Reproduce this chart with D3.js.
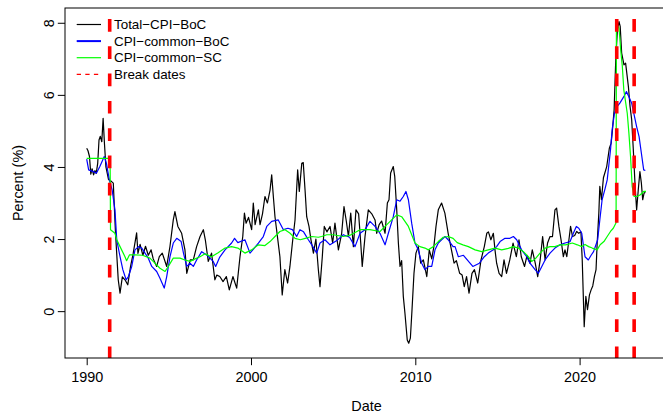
<!DOCTYPE html>
<html>
<head>
<meta charset="utf-8">
<script src="https://cdn.jsdelivr.net/npm/d3@7"></script>
<style>
    body { margin: 0; background: #fff; }
    svg text { font-family: "Liberation Sans", Arial, Helvetica, sans-serif; fill: #000; }
</style>
</head>
<body>
<div id="chart"></div>
<script>
// Series as [decimal year, percent]
const totalCpiBoc = [
    [1990.00, 4.52], [1990.08, 4.45], [1990.17, 4.29], [1990.25, 3.80], [1990.33, 3.95], [1990.42, 3.78],
    [1990.50, 3.90], [1990.58, 3.82], [1990.67, 4.10], [1990.75, 4.75], [1990.83, 4.85], [1990.92, 4.70],
    [1991.00, 5.35], [1991.08, 4.66], [1991.17, 4.00], [1991.33, 3.65], [1991.50, 3.60], [1991.62, 3.55],
    [1991.75, 2.20], [1991.92, 0.87], [1992.03, 0.50], [1992.17, 0.95], [1992.33, 0.87], [1992.50, 0.73],
    [1992.67, 1.24], [1992.83, 1.60], [1993.04, 2.17], [1993.12, 1.60], [1993.25, 1.85], [1993.42, 1.55],
    [1993.58, 1.80], [1993.75, 1.55], [1993.92, 1.70], [1994.05, 1.45], [1994.26, 1.24], [1994.42, 1.51],
    [1994.60, 1.61], [1994.87, 1.24], [1995.07, 1.80], [1995.27, 2.53], [1995.37, 2.76], [1995.55, 2.35],
    [1995.78, 2.16], [1995.98, 1.70], [1996.09, 1.05], [1996.30, 1.42], [1996.49, 1.42], [1996.69, 1.79],
    [1996.90, 2.07], [1997.10, 2.26], [1997.22, 1.98], [1997.40, 1.38], [1997.60, 1.61], [1997.80, 0.87],
    [1997.92, 1.00], [1998.10, 0.96], [1998.30, 0.82], [1998.50, 0.96], [1998.68, 0.59], [1998.90, 0.96],
    [1999.13, 0.64], [1999.33, 1.51], [1999.50, 2.07], [1999.60, 2.72], [1999.70, 2.44], [1999.85, 2.60],
    [2000.04, 2.26], [2000.14, 3.00], [2000.25, 2.40], [2000.45, 2.81], [2000.55, 2.40], [2000.70, 2.70],
    [2000.85, 3.18], [2001.00, 3.00], [2001.16, 3.36], [2001.26, 3.78], [2001.36, 3.18], [2001.46, 2.62],
    [2001.76, 1.51], [2001.90, 0.45], [2002.06, 1.15], [2002.23, 0.78], [2002.37, 1.24], [2002.52, 1.89],
    [2002.68, 2.53], [2002.84, 3.92], [2002.94, 3.32], [2003.09, 4.10], [2003.18, 4.12], [2003.29, 3.36],
    [2003.39, 2.62], [2003.53, 2.35], [2003.65, 1.98], [2003.80, 1.61], [2003.95, 2.00], [2004.10, 1.15],
    [2004.20, 0.68], [2004.34, 1.51], [2004.46, 2.35], [2004.62, 2.20], [2004.81, 2.35], [2004.97, 1.89],
    [2005.11, 2.44], [2005.32, 1.70], [2005.52, 2.16], [2005.66, 2.90], [2005.80, 2.50], [2005.93, 2.07],
    [2006.07, 2.72], [2006.23, 1.79], [2006.39, 2.81], [2006.55, 2.70], [2006.68, 1.89], [2006.77, 1.24],
    [2006.94, 2.07], [2007.14, 2.81], [2007.35, 2.70], [2007.55, 2.53], [2007.65, 2.16], [2007.80, 2.40],
    [2007.95, 2.50], [2008.16, 2.16], [2008.30, 3.00], [2008.40, 3.09], [2008.50, 3.83], [2008.66, 4.01],
    [2008.75, 3.73], [2008.87, 2.81], [2008.97, 1.89], [2009.07, 1.24], [2009.17, 1.40], [2009.27, 0.41],
    [2009.37, -0.06], [2009.51, -0.80], [2009.60, -0.89], [2009.70, -0.75], [2009.80, 0.04], [2009.92, 1.05],
    [2010.04, 1.61], [2010.18, 1.79], [2010.33, 1.33], [2010.49, 1.42], [2010.70, 0.96], [2010.85, 1.70],
    [2011.00, 1.45], [2011.13, 1.79], [2011.26, 2.35], [2011.40, 2.81], [2011.60, 3.00], [2011.80, 2.72],
    [2012.00, 2.16], [2012.20, 1.70], [2012.36, 1.33], [2012.50, 1.40], [2012.70, 1.05], [2012.85, 1.00],
    [2012.98, 0.68], [2013.12, 0.96], [2013.27, 0.50], [2013.45, 1.05], [2013.60, 1.15], [2013.80, 0.78],
    [2014.00, 1.42], [2014.20, 1.79], [2014.35, 2.16], [2014.45, 2.20], [2014.60, 1.98], [2014.75, 2.16],
    [2014.85, 1.70], [2014.95, 1.33], [2015.10, 1.05], [2015.26, 0.96], [2015.40, 1.42], [2015.55, 1.05],
    [2015.75, 1.42], [2015.95, 1.89], [2016.15, 1.51], [2016.31, 1.98], [2016.45, 1.51], [2016.65, 1.24],
    [2016.80, 1.55], [2016.98, 1.33], [2017.12, 1.70], [2017.30, 1.33], [2017.45, 0.96], [2017.60, 1.42],
    [2017.75, 2.07], [2017.90, 1.42], [2018.05, 1.89], [2018.20, 2.07], [2018.35, 2.07], [2018.50, 2.81],
    [2018.60, 2.86], [2018.74, 2.35], [2018.87, 1.98], [2019.01, 1.51], [2019.11, 1.70], [2019.22, 1.51],
    [2019.35, 1.98], [2019.45, 2.35], [2019.57, 2.07], [2019.70, 2.10], [2019.82, 2.21], [2019.95, 2.16],
    [2020.08, 2.20], [2020.16, 1.42], [2020.28, -0.43], [2020.38, 0.41], [2020.48, 0.04], [2020.60, 0.45],
    [2020.70, 0.59], [2020.80, 0.70], [2020.90, 0.96], [2021.00, 1.15], [2021.07, 1.89], [2021.17, 2.72],
    [2021.23, 3.46], [2021.33, 3.09], [2021.45, 3.70], [2021.65, 4.01], [2021.81, 4.52], [2021.92, 4.66],
    [2022.00, 5.03], [2022.10, 5.58], [2022.20, 6.97], [2022.30, 7.80], [2022.40, 8.03], [2022.47, 7.90],
    [2022.56, 7.16], [2022.70, 6.83], [2022.80, 6.88], [2022.97, 6.23], [2023.07, 5.68], [2023.17, 5.31],
    [2023.27, 4.47], [2023.37, 3.55], [2023.47, 2.81], [2023.57, 3.36], [2023.67, 3.87], [2023.76, 3.55],
    [2023.84, 3.09], [2023.92, 3.27], [2024.00, 3.30]
];

const cpiCommonBoc = [
    [1990.00, 4.22], [1990.12, 3.92], [1990.40, 3.87], [1990.60, 3.83], [1990.80, 4.01], [1991.07, 4.29],
    [1991.20, 4.10], [1991.38, 3.64], [1991.55, 3.36], [1991.72, 2.81], [1991.83, 1.98], [1992.03, 1.51],
    [1992.20, 1.15], [1992.40, 0.87], [1992.54, 0.96], [1992.74, 1.24], [1992.94, 1.70], [1993.15, 1.79],
    [1993.35, 1.75], [1993.55, 1.61], [1993.75, 1.47], [1993.96, 1.24], [1994.26, 1.10], [1994.46, 0.91],
    [1994.72, 0.64], [1994.87, 0.96], [1995.07, 1.51], [1995.27, 1.89], [1995.48, 2.02], [1995.75, 1.93],
    [1995.89, 1.61], [1996.09, 1.24], [1996.29, 1.33], [1996.49, 1.24], [1996.69, 1.42], [1997.00, 1.65],
    [1997.30, 1.56], [1997.70, 1.38], [1997.85, 1.24], [1998.10, 1.50], [1998.42, 1.70], [1998.82, 1.89],
    [1999.00, 2.02], [1999.20, 1.90], [1999.63, 1.98], [1999.94, 1.61], [2000.20, 1.75], [2000.45, 1.89],
    [2000.75, 2.07], [2000.96, 2.35], [2001.26, 2.49], [2001.66, 2.53], [2001.97, 2.26], [2002.25, 2.30],
    [2002.52, 2.26], [2002.78, 2.07], [2002.98, 2.26], [2003.20, 2.20], [2003.49, 1.98], [2003.70, 1.84],
    [2004.00, 1.61], [2004.20, 1.89], [2004.50, 1.98], [2004.81, 1.84], [2005.20, 1.95], [2005.62, 2.12],
    [2006.00, 2.05], [2006.33, 1.79], [2006.64, 2.16], [2006.94, 2.26], [2007.24, 2.49], [2007.55, 2.35],
    [2007.85, 2.16], [2008.16, 1.84], [2008.36, 2.16], [2008.66, 2.62], [2008.87, 3.09], [2009.07, 3.05],
    [2009.27, 3.18], [2009.43, 3.32], [2009.58, 3.09], [2009.78, 2.44], [2009.98, 1.89], [2010.18, 1.70],
    [2010.39, 1.33], [2010.59, 1.15], [2010.79, 1.24], [2011.00, 1.24], [2011.20, 1.70], [2011.40, 1.89],
    [2011.60, 1.98], [2011.81, 2.07], [2012.00, 1.98], [2012.30, 1.79], [2012.42, 1.79], [2012.62, 1.51],
    [2012.93, 1.55], [2013.33, 1.33], [2013.50, 1.24], [2013.90, 1.33], [2014.20, 1.51], [2014.44, 1.61],
    [2014.75, 1.70], [2014.95, 1.79], [2015.16, 1.93], [2015.46, 2.02], [2015.76, 2.02], [2015.97, 2.07],
    [2016.17, 1.98], [2016.47, 1.70], [2016.78, 1.51], [2016.98, 1.33], [2017.29, 1.15], [2017.49, 1.05],
    [2017.70, 1.24], [2017.90, 1.42], [2018.20, 1.61], [2018.50, 1.75], [2018.81, 1.84], [2019.11, 1.89],
    [2019.42, 1.93], [2019.62, 2.16], [2019.80, 2.35], [2019.95, 2.30], [2020.13, 2.16], [2020.33, 1.51],
    [2020.53, 1.42], [2020.70, 1.55], [2020.85, 1.65], [2021.10, 1.98], [2021.23, 2.53], [2021.37, 3.09],
    [2021.55, 3.40], [2021.68, 3.64], [2021.88, 4.47], [2021.98, 5.03], [2022.12, 5.49], [2022.29, 5.68],
    [2022.45, 5.77], [2022.69, 5.95], [2022.85, 6.09], [2023.00, 5.95], [2023.17, 5.77], [2023.30, 5.49],
    [2023.47, 5.12], [2023.62, 4.84], [2023.76, 4.38], [2023.90, 3.92], [2024.00, 3.90]
];

const cpiCommonSc = [
    [1990.00, 4.24], [1991.40, 4.24], [1991.43, 3.92], [1991.45, 2.26], [1991.72, 2.16], [1991.83, 1.98],
    [1992.03, 1.79], [1992.33, 1.51], [1992.43, 1.40], [1992.60, 1.56], [1992.94, 1.56], [1993.40, 1.55],
    [1993.85, 1.47], [1994.15, 1.33], [1994.46, 1.19], [1994.77, 1.10], [1994.97, 1.24], [1995.27, 1.47],
    [1995.68, 1.47], [1995.98, 1.42], [1996.29, 1.38], [1996.60, 1.45], [1996.90, 1.51], [1997.20, 1.59],
    [1997.60, 1.51], [1998.00, 1.62], [1998.42, 1.75], [1998.82, 1.79], [1999.20, 1.75], [1999.63, 1.61],
    [2000.04, 1.70], [2000.45, 1.84], [2000.85, 1.82], [2001.16, 1.93], [2001.46, 2.07], [2001.76, 2.21],
    [2002.07, 2.26], [2002.38, 2.16], [2002.68, 2.02], [2003.00, 1.98], [2003.30, 2.02], [2003.70, 2.07],
    [2004.10, 2.05], [2004.30, 2.07], [2004.61, 2.12], [2005.00, 2.12], [2005.62, 2.07], [2006.00, 2.10],
    [2006.64, 2.26], [2007.24, 2.26], [2007.85, 2.21], [2008.16, 2.35], [2008.56, 2.53], [2008.87, 2.67],
    [2009.17, 2.62], [2009.37, 2.49], [2009.58, 2.35], [2009.78, 2.12], [2009.98, 1.89], [2010.28, 1.79],
    [2010.59, 1.75], [2010.79, 1.70], [2011.10, 1.79], [2011.40, 1.93], [2011.70, 2.05], [2012.00, 2.07],
    [2012.30, 2.02], [2012.55, 1.90], [2012.90, 1.84], [2013.23, 1.79], [2013.64, 1.70], [2014.04, 1.65],
    [2014.44, 1.70], [2014.85, 1.75], [2015.26, 1.70], [2015.66, 1.74], [2015.97, 1.79], [2016.27, 1.75],
    [2016.58, 1.65], [2016.88, 1.51], [2017.08, 1.38], [2017.30, 1.45], [2017.59, 1.61], [2017.90, 1.75],
    [2018.20, 1.79], [2018.50, 1.79], [2018.81, 1.84], [2019.15, 1.84], [2019.56, 1.89], [2019.86, 1.84],
    [2020.13, 1.79], [2020.33, 1.85], [2020.55, 1.79], [2020.77, 1.75], [2021.07, 1.70], [2021.25, 1.84],
    [2021.48, 1.93], [2021.68, 2.07], [2021.88, 2.21], [2022.05, 2.30], [2022.22, 2.45], [2022.24, 7.90],
    [2022.28, 7.94], [2022.40, 7.85], [2022.50, 7.25], [2022.60, 6.79], [2022.69, 6.14], [2022.90, 5.49],
    [2023.00, 4.94], [2023.10, 4.29], [2023.20, 3.46], [2023.32, 3.18], [2023.50, 3.18], [2023.70, 3.23],
    [2023.90, 3.32], [2024.04, 3.32]
];

const breakDates = [1991.40, 2022.26, 2023.32];
const xTicks = [1990, 2000, 2010, 2020];
const yTicks = [0, 2, 4, 6, 8];
const seriesNames = ["Total\u2212CPI\u2212BoC", "CPI\u2212common\u2212BoC", "CPI\u2212common\u2212SC", "Break dates"];
const seriesColors = ["#000000", "#0000ff", "#00ff00", "#ff0000"];

function drawChart() {
    const margin = { top: 8, right: -5, bottom: 56, left: 65 };
    const fullWidth = 663, fullHeight = 414;
    const width = fullWidth - margin.left - margin.right;
    const height = fullHeight - margin.top - margin.bottom;

    const svg = d3.select("#chart")
        .append("svg")
        .attr("width", fullWidth)
        .attr("height", fullHeight)
        .style("display", "block");

    const g = svg.append("g")
        .attr("transform", `translate(${margin.left},${margin.top})`);

    // R style 4% padding around the data range
    const x = d3.scaleLinear().domain([1988.68, 2025.38]).range([0, width]);
    const y = d3.scaleLinear().domain([-1.30, 8.41]).range([height, 0]);

    // X axis
    const xAxis = g.append("g")
        .attr("transform", `translate(0,${height})`)
        .call(d3.axisBottom(x).tickValues(xTicks).tickFormat(d3.format("d"))
            .tickSize(7.2).tickSizeOuter(0).tickPadding(6.5));
    xAxis.select(".domain").remove();
    xAxis.selectAll("text").style("font-size", "14.4px");

    // Y axis, labels parallel to the axis
    const yAxis = g.append("g")
        .call(d3.axisLeft(y).tickValues(yTicks).tickSize(7.2).tickSizeOuter(0));
    yAxis.select(".domain").remove();
    yAxis.selectAll("text")
        .attr("x", null)
        .attr("dy", null)
        .attr("text-anchor", "middle")
        .attr("transform", "translate(-11.5,0) rotate(-90)")
        .style("font-size", "14.4px");
    g.selectAll(".tick line").attr("stroke", "#000").attr("stroke-width", 1);

    // Axis titles
    svg.append("text")
        .attr("x", margin.left + width / 2)
        .attr("y", 410.5)
        .attr("text-anchor", "middle")
        .style("font-size", "14.4px")
        .text("Date");

    svg.append("text")
        .attr("transform", `translate(22.5,${margin.top + height / 2}) rotate(-90)`)
        .attr("text-anchor", "middle")
        .style("font-size", "14.4px")
        .text("Percent (%)");

    // Series
    const line = d3.line()
        .x(d => x(d[0]))
        .y(d => y(d[1]));

    [totalCpiBoc, cpiCommonBoc, cpiCommonSc].forEach((series, i) => {
        g.append("path")
            .datum(series)
            .attr("fill", "none")
            .attr("stroke", seriesColors[i])
            .attr("stroke-width", 1.2)
            .attr("stroke-linejoin", "round")
            .attr("d", line);
    });

    // Break dates as dashed vertical lines
    g.selectAll(".break")
        .data(breakDates)
        .join("line")
        .attr("class", "break")
        .attr("x1", d => x(d))
        .attr("x2", d => x(d))
        .attr("y1", 0)
        .attr("y2", height)
        .attr("stroke", seriesColors[3])
        .attr("stroke-width", 3.6)
        .attr("stroke-dasharray", "12.7 14.6")
        .attr("stroke-dashoffset", 16.3);

    // Plot box
    g.append("rect")
        .attr("x", 0)
        .attr("y", 0)
        .attr("width", width)
        .attr("height", height)
        .attr("fill", "none")
        .attr("stroke", "#000")
        .attr("stroke-width", 1);

    // Legend, no box
    const legend = svg.append("g").attr("transform", "translate(76.7,24.5)");
    seriesNames.forEach((name, i) => {
        const row = legend.append("g").attr("transform", `translate(0,${i * 16.6})`);
        row.append("line")
            .attr("x1", 0)
            .attr("x2", 24.3)
            .attr("stroke", seriesColors[i])
            .attr("stroke-width", i === 1 ? 2 : 1.2)
            .attr("stroke-dasharray", i === 3 ? "4.3 4.3" : null);
        row.append("text")
            .attr("x", 37.3)
            .attr("dy", "0.35em")
            .style("font-size", "13.4px")
            .text(name);
    });
}

drawChart();
</script>
</body>
</html>
